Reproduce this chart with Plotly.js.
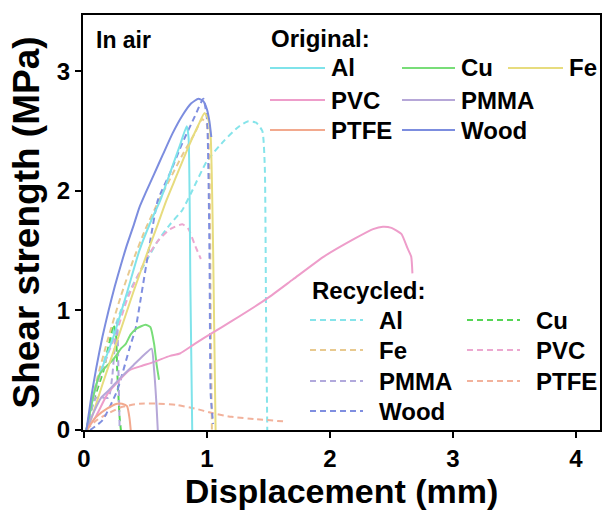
<!DOCTYPE html>
<html>
<head>
<meta charset="utf-8">
<script src="https://cdn.plot.ly/plotly-3.0.1.min.js"></script>
<style>html,body{margin:0;padding:0;background:#fff;}#chart{width:602px;height:520px;}</style>
</head>
<body>
<div id="chart"></div>
<script>
// ---------- Data ----------
const materials = ["Al", "Cu", "Fe", "PVC", "PMMA", "PTFE", "Wood"];

// Original (solid)
const origAlX   = [0.02, 0.10, 0.23, 0.35, 0.45, 0.55, 0.62, 0.70, 0.78, 0.835, 0.85, 0.865, 0.88];
const origAlY   = [0.00, 0.38, 0.75, 1.15, 1.50, 1.76, 1.92, 2.15, 2.38, 2.54, 2.45, 1.20, 0.00];
const origCuX   = [0.02, 0.08, 0.13, 0.18, 0.22, 0.26, 0.30, 0.34, 0.38, 0.43, 0.50, 0.54, 0.57, 0.59, 0.61];
const origCuY   = [0.00, 0.30, 0.47, 0.53, 0.57, 0.62, 0.68, 0.72, 0.80, 0.85, 0.88, 0.86, 0.72, 0.55, 0.42];
const origFeX   = [0.03, 0.15, 0.28, 0.40, 0.50, 0.60, 0.67, 0.75, 0.85, 0.93, 0.98, 1.01, 1.03, 1.05, 1.07];
const origFeY   = [0.00, 0.38, 0.78, 1.15, 1.44, 1.72, 1.92, 2.12, 2.37, 2.55, 2.65, 2.60, 2.45, 1.50, 0.00];
const origPvcX  = [0.02, 0.10, 0.19, 0.29, 0.37, 0.45, 0.57, 0.70, 0.78, 0.90, 1.04, 1.20, 1.49, 1.70, 1.95, 2.20, 2.35, 2.43, 2.50, 2.58, 2.63, 2.66, 2.67];
const origPvcY  = [0.00, 0.12, 0.30, 0.42, 0.50, 0.53, 0.57, 0.62, 0.64, 0.72, 0.81, 0.91, 1.10, 1.26, 1.45, 1.60, 1.68, 1.70, 1.69, 1.64, 1.52, 1.45, 1.31];
const origPmmaX = [0.02, 0.08, 0.14, 0.20, 0.30, 0.40, 0.50, 0.55, 0.57, 0.59, 0.60];
const origPmmaY = [0.00, 0.15, 0.27, 0.33, 0.44, 0.54, 0.64, 0.68, 0.50, 0.20, 0.00];
const origPtfeX = [0.02, 0.10, 0.19, 0.27, 0.31, 0.35, 0.37, 0.38];
const origPtfeY = [0.00, 0.11, 0.18, 0.22, 0.22, 0.20, 0.10, 0.00];
const origWoodX = [0.02, 0.06, 0.10, 0.15, 0.20, 0.25, 0.30, 0.35, 0.40, 0.45, 0.50, 0.57, 0.64, 0.72, 0.80, 0.87, 0.93, 0.97, 1.00, 1.02, 1.035];
const origWoodY = [0.00, 0.28, 0.52, 0.78, 1.00, 1.20, 1.38, 1.55, 1.70, 1.86, 1.98, 2.14, 2.30, 2.48, 2.63, 2.73, 2.77, 2.75, 2.68, 2.58, 2.45];

// Recycled (dashed)
const recAlX   = [0.02, 0.10, 0.20, 0.30, 0.40, 0.50, 0.60, 0.70, 0.80, 0.87, 1.00, 1.14, 1.25, 1.33, 1.40, 1.45, 1.47, 1.48, 1.49];
const recAlY   = [0.00, 0.35, 0.70, 1.00, 1.22, 1.40, 1.58, 1.72, 1.84, 1.98, 2.25, 2.42, 2.53, 2.58, 2.57, 2.50, 2.20, 1.00, 0.00];
const recCuX   = [0.02, 0.08, 0.16, 0.20, 0.24, 0.26, 0.27, 0.29, 0.30];
const recCuY   = [0.00, 0.25, 0.50, 0.70, 0.88, 0.80, 0.50, 0.10, 0.00];
const recFeX   = [0.02, 0.10, 0.20, 0.30, 0.40, 0.50, 0.60, 0.70, 0.80, 0.90, 0.96, 1.00, 1.02, 1.03, 1.04];
const recFeY   = [0.00, 0.40, 0.78, 1.12, 1.42, 1.68, 1.90, 2.10, 2.30, 2.48, 2.60, 2.55, 2.20, 1.00, 0.00];
const recPvcX  = [0.02, 0.10, 0.20, 0.26, 0.35, 0.50, 0.60, 0.70, 0.80, 0.85, 0.90, 0.95];
const recPvcY  = [0.00, 0.35, 0.65, 0.80, 1.09, 1.42, 1.58, 1.68, 1.72, 1.68, 1.55, 1.43];
const recPmmaX = [0.02, 0.07, 0.10, 0.15, 0.20, 0.23, 0.25, 0.27, 0.28, 0.29];
const recPmmaY = [0.00, 0.20, 0.27, 0.27, 0.27, 0.45, 0.70, 0.90, 0.50, 0.00];
const recPtfeX = [0.02, 0.10, 0.20, 0.30, 0.45, 0.60, 0.75, 0.90, 1.05, 1.20, 1.40, 1.65];
const recPtfeY = [0.00, 0.08, 0.14, 0.19, 0.22, 0.22, 0.21, 0.18, 0.14, 0.11, 0.09, 0.07];
const recWoodX = [0.05, 0.15, 0.27, 0.375, 0.42, 0.46, 0.54, 0.60, 0.70, 0.80, 0.90, 0.97, 1.00, 1.02, 1.03, 1.05];
const recWoodY = [0.00, 0.08, 0.33, 0.70, 0.85, 1.09, 1.59, 1.92, 2.15, 2.40, 2.62, 2.77, 2.60, 1.50, 0.30, 0.05];

const xTicks = [0, 1, 2, 3, 4];
const yTicks = [0, 1, 2, 3];

// ---------- Styles ----------
const origColors = {Al:"#7fe3ea", Cu:"#78dd78", Fe:"#e7dc7e", PVC:"#ee9dca", PMMA:"#b6a7d8", PTFE:"#f2a98e", Wood:"#7c8ddf"};
const recColors  = {Al:"#86e4ea", Cu:"#55d655", Fe:"#e8c98f", PVC:"#eca8d0", PMMA:"#b1a9dc", PTFE:"#f2b29c", Wood:"#7f8ee0"};

const origData = {
  Al:[origAlX, origAlY], Cu:[origCuX, origCuY], Fe:[origFeX, origFeY], PVC:[origPvcX, origPvcY],
  PMMA:[origPmmaX, origPmmaY], PTFE:[origPtfeX, origPtfeY], Wood:[origWoodX, origWoodY]
};
const recData = {
  Al:[recAlX, recAlY], Cu:[recCuX, recCuY], Fe:[recFeX, recFeY], PVC:[recPvcX, recPvcY],
  PMMA:[recPmmaX, recPmmaY], PTFE:[recPtfeX, recPtfeY], Wood:[recWoodX, recWoodY]
};

const traces = [];
materials.forEach(m => {
  traces.push({x: recData[m][0], y: recData[m][1], mode:"lines", name:"Recycled " + m,
    line:{color: recColors[m], width:2, dash:"6px,4px", shape:"spline", smoothing:0.5}, showlegend:false, hoverinfo:"skip"});
});
materials.forEach(m => {
  traces.push({x: origData[m][0], y: origData[m][1], mode:"lines", name:"Original " + m,
    line:{color: origColors[m], width:2, shape:"spline", smoothing:0.5}, showlegend:false, hoverinfo:"skip"});
});

// ---------- Layout ----------
const W = 602, H = 520;
const mL = 83, mR = 2, mT = 15, mB = 90;
const pw = W - mL - mR, ph = H - mT - mB;
const px = X => (X - mL) / pw;          // pixel -> paper x
const py = Y => (H - mB - Y) / ph;      // pixel -> paper y

const FONT = "Liberation Sans, Arial, sans-serif";
const annFont = {family: FONT, size: 24, color: "#000", weight: "bold"};

const annotations = [];
const shapes = [];
function label(text, X, Y, size) {
  annotations.push({text, x: px(X), y: py(Y), xref:"paper", yref:"paper",
    xanchor:"left", yanchor:"middle", showarrow:false,
    font: size ? Object.assign({}, annFont, {size}) : annFont, borderpad:0});
}
function sample(X0, X1, Y, color, dash) {
  shapes.push({type:"line", xref:"paper", yref:"paper", x0:px(X0), x1:px(X1), y0:py(Y), y1:py(Y),
    line:{color, width:2, dash: dash || "solid"}});
}

label("In air", 95, 40, 23);
label("Original:", 270, 38);
// Original legend grid
const origLegend = [
  ["Al", 270, 325, 330, 68], ["Cu", 402, 455, 460, 68], ["Fe", 508, 563, 568, 68],
  ["PVC", 270, 325, 330, 100], ["PMMA", 402, 455, 460, 100],
  ["PTFE", 270, 325, 330, 130], ["Wood", 402, 455, 460, 130]
];
origLegend.forEach(([m, a, b, t, y]) => { sample(a, b, y, origColors[m]); label(m, t, y); });

label("Recycled:", 311, 290);
const recLegend = [
  ["Al", 310, 363, 378, 320], ["Cu", 467, 520, 535, 320],
  ["Fe", 310, 363, 378, 350], ["PVC", 467, 520, 535, 350],
  ["PMMA", 310, 363, 378, 381], ["PTFE", 467, 520, 535, 381],
  ["Wood", 310, 363, 378, 411]
];
recLegend.forEach(([m, a, b, t, y]) => { sample(a, b, y, recColors[m], "6px,4px"); label(m, t, y); });

const layout = {
  width: W, height: H,
  margin: {l: mL, r: mR, t: mT, b: mB, pad: 0},
  paper_bgcolor: "#fff", plot_bgcolor: "#fff",
  showlegend: false,
  font: {family: FONT, color: "#000"},
  xaxis: {
    range: [-0.008, 4.195], tickvals: xTicks, ticktext: xTicks.map(String),
    ticks: "outside", ticklen: 6, tickwidth: 2, tickcolor: "#000",
    showline: true, linewidth: 2, linecolor: "#000", mirror: true,
    showgrid: false, zeroline: false,
    tickfont: {family: FONT, size: 24, color: "#000", weight: "bold"},
    title: {text: "Displacement (mm)", font: {family: FONT, size: 34, color: "#000", weight: "bold"}, standoff: 8}
  },
  yaxis: {
    range: [0, 3.47], tickvals: yTicks, ticktext: yTicks.map(String),
    ticks: "outside", ticklen: 6, tickwidth: 2, tickcolor: "#000",
    showline: true, linewidth: 2, linecolor: "#000", mirror: true,
    showgrid: false, zeroline: false,
    tickfont: {family: FONT, size: 24, color: "#000", weight: "bold"},
    title: {text: "Shear strength (MPa)", font: {family: FONT, size: 37, color: "#000", weight: "bold"}, standoff: 6}
  },
  annotations, shapes
};

Plotly.newPlot("chart", traces, layout, {staticPlot: true, displayModeBar: false});
</script>
</body>
</html>
